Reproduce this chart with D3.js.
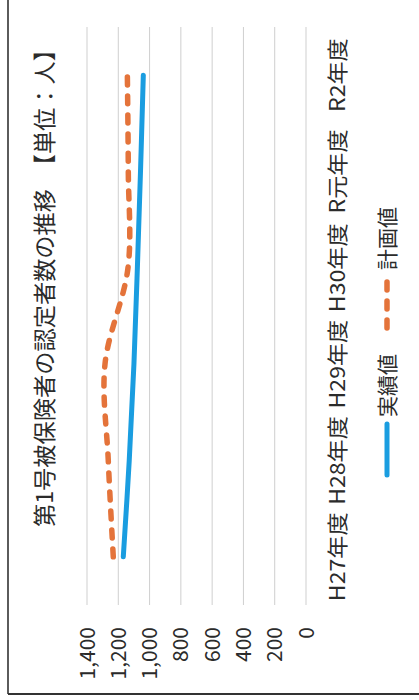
<!DOCTYPE html>
<html><head><meta charset="utf-8">
<script src="https://cdn.jsdelivr.net/npm/d3@7"></script>
<style>html,body{margin:0;padding:0;background:#fff;}svg{display:block;}</style>
</head><body>
<script>
const categories = ["H27年度","H28年度","H29年度","H30年度","R元年度","R2年度"];
const actualValues = [1168,1130,1100,1078,1058,1040];
const planValues = [1232,1264,1285,1138,1136,1142];
const tickValues = [0,200,400,600,800,1000,1200,1400];
const seriesNames = ["実績値","計画値"];
const titleText = "第1号被保険者の認定者数の推移　【単位：人】";

const W = 419, H = 700;
const font = "'Noto Sans CJK JP','Noto Sans',sans-serif";
const textColor = "#2b2b2b";
const blue = "#1a9de0", orange = "#e4733a";

const svg = d3.select("body").append("svg").attr("width", W).attr("height", H);
svg.append("rect").attr("width", W).attr("height", H).attr("fill", "#fff");

// page border (left and bottom edges visible)
svg.append("line").attr("x1",8).attr("x2",8).attr("y1",0).attr("y2",694).attr("stroke","#333").attr("stroke-width",1.6);
svg.append("line").attr("x1",8).attr("x2",W).attr("y1",694).attr("y2",694).attr("stroke","#333").attr("stroke-width",2);

// chart drawn in an unrotated frame (700 wide x 419 tall), then rotated -90deg
const g = svg.append("g").attr("transform", `translate(0,${H}) rotate(-90)`);

const x = d3.scalePoint().domain(categories).range([95, 673]).padding(0.5);
const y = d3.scaleLinear().domain([0, 1400]).range([306, 87]);

// gridlines
g.append("g").selectAll("line").data(tickValues).join("line")
  .attr("x1", 95).attr("x2", 673)
  .attr("y1", d => y(d)).attr("y2", d => y(d))
  .attr("stroke", "#cfcfcf").attr("stroke-width", 1);

// y tick labels
const fmt = d3.format(",");
g.append("g").selectAll("text").data(tickValues).join("text")
  .attr("x", 73).attr("y", d => y(d)).attr("dy", "0.36em")
  .attr("text-anchor", "end").attr("font-family", font).attr("font-size", 21)
  .attr("fill", textColor).text(d => fmt(d));

// category labels (slightly stretched along the text direction, as in the scan)
g.append("g").selectAll("text").data(categories).join("text")
  .attr("transform", d => `translate(${x(d)},337) scale(1.1,1)`)
  .attr("dy", "0.36em")
  .attr("text-anchor", "middle").attr("font-family", font).attr("font-size", 21)
  .attr("fill", textColor).text(d => d);

// lines
const line = d3.line().x((d,i) => x(categories[i])).y(d => y(d)).curve(d3.curveCatmullRom.alpha(0.5));
g.append("path").datum(planValues).attr("d", line)
  .attr("fill","none").attr("stroke", orange).attr("stroke-width", 5.5)
  .attr("stroke-linecap","round").attr("stroke-dasharray","8,11");
g.append("path").datum(actualValues).attr("d", line)
  .attr("fill","none").attr("stroke", blue).attr("stroke-width", 5)
  .attr("stroke-linecap","round");

// title
g.append("text").attr("x", 173).attr("y", 45).attr("dy","0.36em")
  .attr("font-family", font).attr("font-size", 23).attr("fill", textColor)
  .attr("textLength", 489).attr("lengthAdjust","spacingAndGlyphs")
  .text(titleText);

// legend
const lg = g.append("g");
lg.append("line").attr("x1",225).attr("x2",276).attr("y1",387).attr("y2",387)
  .attr("stroke", blue).attr("stroke-width",5).attr("stroke-linecap","round");
lg.append("text").attr("x",283).attr("y",387).attr("dy","0.36em")
  .attr("font-family", font).attr("font-size",21).attr("fill",textColor).text(seriesNames[0]);
lg.append("line").attr("x1",372).attr("x2",424).attr("y1",387).attr("y2",387)
  .attr("stroke", orange).attr("stroke-width",5.5).attr("stroke-linecap","round").attr("stroke-dasharray","8,11");
lg.append("text").attr("x",430).attr("y",387).attr("dy","0.36em")
  .attr("font-family", font).attr("font-size",21).attr("fill",textColor).text(seriesNames[1]);
</script>
</body></html>
